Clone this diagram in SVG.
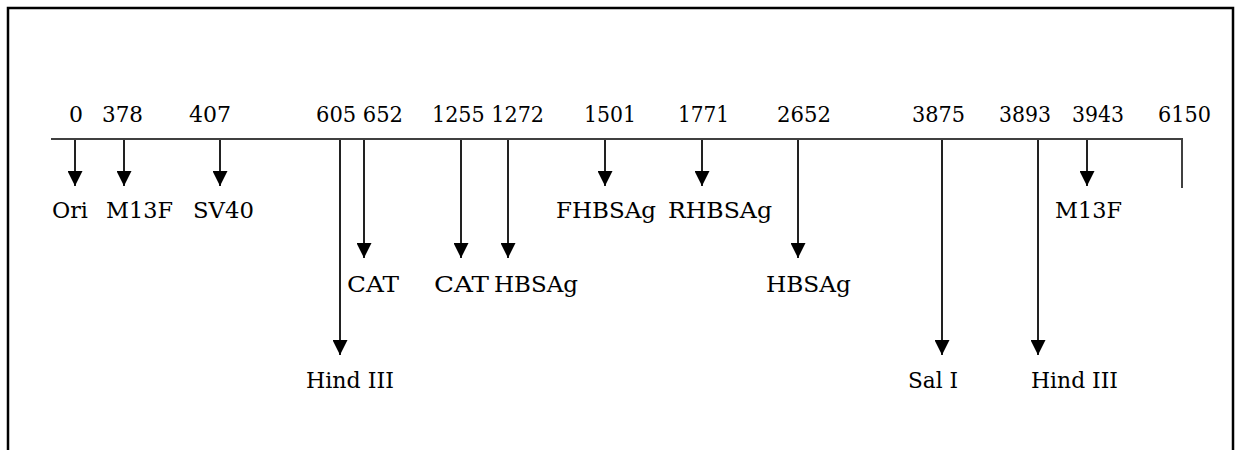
<svg xmlns="http://www.w3.org/2000/svg" width="1238" height="450" viewBox="0 0 1238 450">
<defs>
<marker id="ah" viewBox="0 0 15 15" refX="15" refY="7.5" markerWidth="15" markerHeight="15" markerUnits="userSpaceOnUse" orient="auto">
<path d="M0,0 L15,7.5 L0,15 z" fill="#000"/>
</marker>
</defs>
<style>
.ax{stroke:#404040;stroke-width:2;fill:none}
.ar{stroke:#222;stroke-width:2;fill:none;marker-end:url(#ah)}
text{lengthAdjust:spacingAndGlyphs}
</style>
<rect x="8" y="8" width="1225" height="470" fill="#fff" stroke="#000" stroke-width="2.5"/>
<g font-family="'DejaVu Serif', serif" font-size="23" fill="#000">
<g id="axis">
<line class="ax" x1="51" y1="139" x2="1183" y2="139"/>
<line class="ax" x1="1182" y1="139" x2="1182" y2="188"/>
<text x="69" y="122" textLength="14" lengthAdjust="spacingAndGlyphs">0</text>
<text x="102" y="122" textLength="41" lengthAdjust="spacingAndGlyphs">378</text>
<text x="189" y="122" textLength="42" lengthAdjust="spacingAndGlyphs">407</text>
<text x="316" y="122" textLength="87" lengthAdjust="spacingAndGlyphs">605 652</text>
<text x="432" y="122" textLength="112" lengthAdjust="spacingAndGlyphs">1255 1272</text>
<text x="584" y="122" textLength="52" lengthAdjust="spacingAndGlyphs">1501</text>
<text x="678" y="122" textLength="51" lengthAdjust="spacingAndGlyphs">1771</text>
<text x="777" y="122" textLength="54" lengthAdjust="spacingAndGlyphs">2652</text>
<text x="912" y="122" textLength="53" lengthAdjust="spacingAndGlyphs">3875</text>
<text x="999" y="122" textLength="52" lengthAdjust="spacingAndGlyphs">3893</text>
<text x="1072" y="122" textLength="52" lengthAdjust="spacingAndGlyphs">3943</text>
<text x="1158" y="122" textLength="53" lengthAdjust="spacingAndGlyphs">6150</text>
</g>
<g id="connectors">
<line class="ar" x1="75" y1="140" x2="75" y2="186"/>
<line class="ar" x1="124" y1="140" x2="124" y2="186"/>
<line class="ar" x1="220" y1="140" x2="220" y2="186"/>
<line class="ar" x1="340" y1="140" x2="340" y2="355"/>
<line class="ar" x1="364" y1="140" x2="364" y2="258"/>
<line class="ar" x1="461" y1="140" x2="461" y2="258"/>
<line class="ar" x1="508" y1="140" x2="508" y2="258"/>
<line class="ar" x1="605" y1="140" x2="605" y2="186"/>
<line class="ar" x1="702" y1="140" x2="702" y2="186"/>
<line class="ar" x1="798" y1="140" x2="798" y2="258"/>
<line class="ar" x1="942" y1="140" x2="942" y2="355"/>
<line class="ar" x1="1038" y1="140" x2="1038" y2="355"/>
<line class="ar" x1="1087" y1="140" x2="1087" y2="186"/>
</g>
<g id="n-ori"><text x="52" y="218" textLength="36" lengthAdjust="spacingAndGlyphs">Ori</text></g>
<g id="n-m13f-1"><text x="106" y="218" textLength="67" lengthAdjust="spacingAndGlyphs">M13F</text></g>
<g id="n-sv40"><text x="193" y="218" textLength="61" lengthAdjust="spacingAndGlyphs">SV40</text></g>
<g id="n-hind-1"><text x="306" y="388" textLength="88" lengthAdjust="spacingAndGlyphs">Hind III</text></g>
<g id="n-cat-1"><text x="347" y="292" textLength="52" lengthAdjust="spacingAndGlyphs">CAT</text></g>
<g id="n-cat-2"><text x="434" y="292" textLength="55" lengthAdjust="spacingAndGlyphs">CAT</text></g>
<g id="n-hbsag-1"><text x="494" y="292" textLength="84" lengthAdjust="spacingAndGlyphs">HBSAg</text></g>
<g id="n-fhbsag"><text x="556" y="218" textLength="100" lengthAdjust="spacingAndGlyphs">FHBSAg</text></g>
<g id="n-rhbsag"><text x="668" y="218" textLength="104" lengthAdjust="spacingAndGlyphs">RHBSAg</text></g>
<g id="n-hbsag-2"><text x="766" y="292" textLength="85" lengthAdjust="spacingAndGlyphs">HBSAg</text></g>
<g id="n-sal"><text x="908" y="388" textLength="50" lengthAdjust="spacingAndGlyphs">Sal I</text></g>
<g id="n-hind-2"><text x="1031" y="388" textLength="87" lengthAdjust="spacingAndGlyphs">Hind III</text></g>
<g id="n-m13f-2"><text x="1055" y="218" textLength="67" lengthAdjust="spacingAndGlyphs">M13F</text></g>
</g>
</svg>
